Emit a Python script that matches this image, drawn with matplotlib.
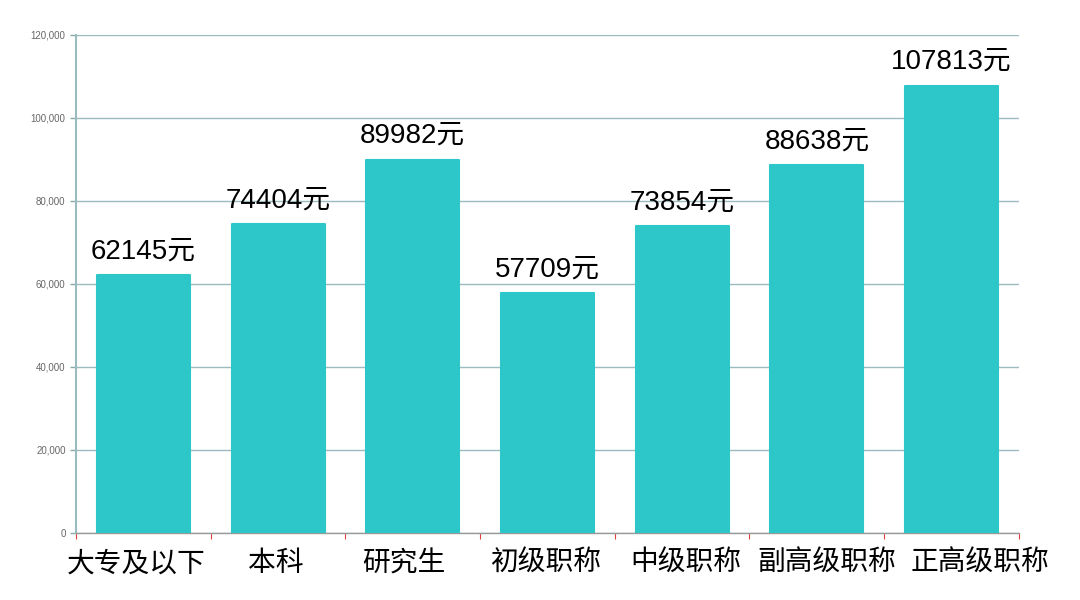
import matplotlib
matplotlib.use("Agg")
import matplotlib.pyplot as plt
import matplotlib.transforms as mtransforms
from matplotlib.ticker import FuncFormatter, MultipleLocator

# data
categories = ["大专及以下", "本科", "研究生", "初级职称", "中级职称", "副高级职称", "正高级职称"]
salaries = [62145, 74404, 89982, 57709, 73854, 88638, 107813]

plt.rcParams['font.family'] = ['Liberation Sans', 'Noto Sans CJK SC', 'DejaVu Sans']

bar_color = '#2ec7c9'
grid_color = '#9bbcbe'

fig = plt.figure(figsize=(10.8, 6), dpi=100)
ax = fig.add_axes([0.0704, 0.1117, 0.873, 0.83])

x = list(range(len(categories)))
bars = ax.bar(x, salaries, width=0.69, color=bar_color, edgecolor=bar_color,
              linewidth=1.5, joinstyle='round', zorder=3)

for xi, v in zip(x, salaries):
    ax.text(xi, v + 2600, f"{v}元", ha='center', va='bottom', fontsize=20,
            color='black', zorder=4)

ax.set_xlim(-0.5, len(categories) - 0.5)
ax.set_ylim(0, 120000)
ax.yaxis.set_major_locator(MultipleLocator(20000))
ax.yaxis.set_major_formatter(FuncFormatter(lambda v, p: f"{int(v):,}"))
ax.grid(axis='y', color=grid_color, linewidth=1, zorder=0)

ax.set_xticks(x)
ax.set_xticklabels(categories, fontsize=20, family=['Noto Sans CJK SC'])
ax.tick_params(axis='x', length=0, pad=11)
# the labels in the reference drift outward a bit so the long ones do not touch
nudges = [-7, -2, -9, -2, 4, 10, 28]
for lab, dx in zip(ax.get_xticklabels(), nudges):
    lab.set_transform(lab.get_transform() +
                      mtransforms.ScaledTranslation(dx / 100, 0, fig.dpi_scale_trans))
# small red ticks between categories
ax.set_xticks([i - 0.5 for i in range(len(categories) + 1)], minor=True)
ax.tick_params(axis='x', which='minor', length=4, color='#e04040', width=0.8)

ax.tick_params(axis='y', labelsize=7, labelcolor='#666666', color='#8aa8aa',
               length=4, width=1)

for side in ['top', 'right']:
    ax.spines[side].set_visible(False)
ax.spines['left'].set_color(grid_color)
ax.spines['left'].set_linewidth(1.5)
ax.spines['bottom'].set_color('#999999')
ax.spines['bottom'].set_linewidth(1)

fig.savefig('out.png', dpi=100, facecolor='white')
